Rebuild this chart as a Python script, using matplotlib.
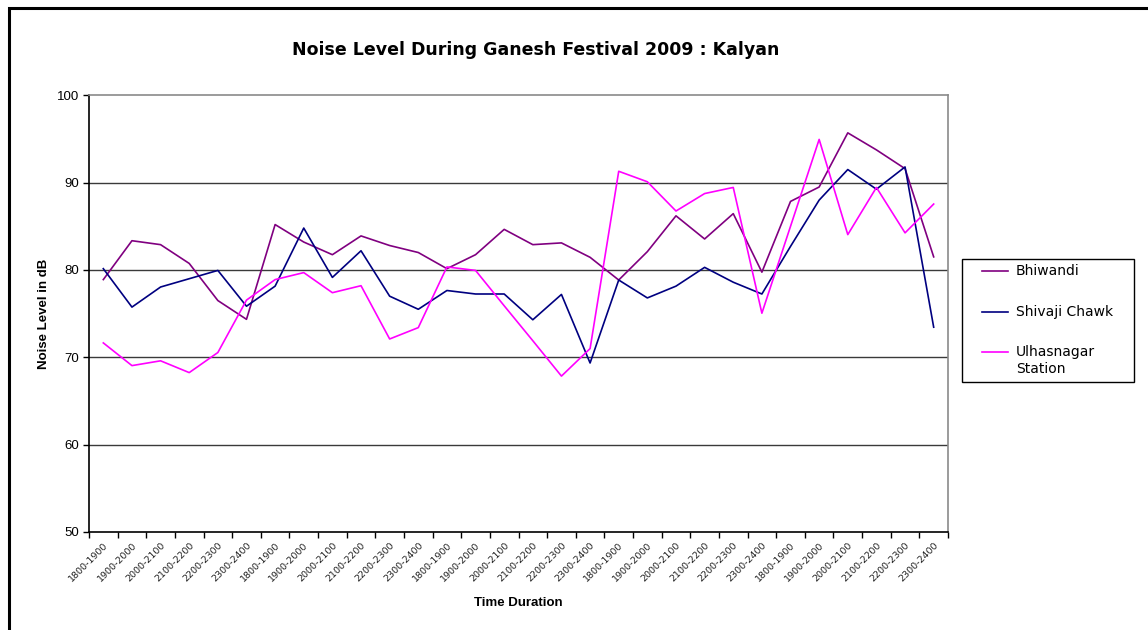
import matplotlib
matplotlib.use("Agg")
import matplotlib.pyplot as plt
from matplotlib.patches import Rectangle
from matplotlib.lines import Line2D
import numpy as np

# time slots, repeated for the five evenings
slots = ["1800-1900", "1900-2000", "2000-2100", "2100-2200", "2200-2300", "2300-2400"]
categories = slots * 5

bhiwandi = [78.9, 83.35, 82.9, 80.75, 76.5, 74.35, 85.2, 83.2, 81.75, 83.9,
            82.8, 82.0, 80.15, 81.75, 84.65, 82.9, 83.1, 81.45, 78.85, 82.1,
            86.2, 83.55, 86.45, 79.75, 87.85, 89.5, 95.7, 93.75, 91.6, 81.5]
shivaji = [80.15, 75.75, 78.05, 79.0, 79.95, 75.85, 78.15, 84.8, 79.15, 82.2,
           77.0, 75.5, 77.65, 77.25, 77.25, 74.3, 77.2, 69.35, 78.85, 76.8,
           78.15, 80.3, 78.6, 77.25, 82.7, 88.0, 91.5, 89.25, 91.8, 73.45]
ulhasnagar = [71.65, 69.05, 69.6, 68.25, 70.55, 76.55, 78.9, 79.7, 77.4, 78.2,
              72.1, 73.4, 80.35, 79.95, 75.9, 71.9, 67.85, 71.0, 91.3, 90.1,
              86.75, 88.75, 89.45, 75.05, 85.0, 94.95, 84.05, 89.45, 84.25, 87.55]

series = [("Bhiwandi", bhiwandi, "#800080"),
          ("Shivaji Chawk", shivaji, "#000080"),
          ("Ulhasnagar\nStation", ulhasnagar, "#FF00FF")]

W, H = 1148, 630
fig = plt.figure(figsize=(W / 100, H / 100), dpi=100)
ax = fig.add_axes([89 / W, 1 - 532 / H, (948 - 89) / W, (532 - 95.3) / H])

x = np.arange(len(categories))
for name, vals, col in series:
    ax.plot(x, vals, color=col, lw=1.2, label=name)

ax.set_xlim(-0.5, len(categories) - 0.5)
ax.set_ylim(50, 100)
ax.set_yticks([50, 60, 70, 80, 90, 100])
ax.set_yticklabels(["50", "60", "70", "80", "90", "100"], fontsize=9.5,
                   family="Liberation Sans")
for v in [60, 70, 80, 90]:
    ax.axhline(v, color="#3a3a3a", lw=1.0, zorder=0)

# ticks between categories, labels at centres
ax.set_xticks(np.arange(-0.5, len(categories), 1.0))
ax.set_xticklabels([])
ax.set_xticks(x, minor=True)
ax.set_xticklabels(categories, minor=True, rotation=45, ha="right",
                   rotation_mode="anchor", fontsize=6.8, color="#222222")
ax.tick_params(axis="x", which="minor", length=0, pad=6)
ax.tick_params(axis="x", which="major", length=4, width=1, direction="out")
ax.tick_params(axis="y", length=4, width=1, direction="out", pad=3)

for s in ["left", "bottom"]:
    ax.spines[s].set_color("black")
    ax.spines[s].set_linewidth(1.2)
for s in ["top", "right"]:
    ax.spines[s].set_color("#8a8a8a")
    ax.spines[s].set_linewidth(1.2)

ax.set_xlabel("Time Duration", fontsize=9.5, fontweight="bold",
              family="Liberation Sans", labelpad=10)
ax.set_ylabel("Noise Level in dB", fontsize=9.5, fontweight="bold",
              family="Liberation Sans", labelpad=5)

fig.text(536 / W, 1 - 50 / H, "Noise Level During Ganesh Festival 2009 : Kalyan",
         ha="center", va="center", fontsize=12.5, fontweight="bold")

# legend box drawn by hand so the handle sits on the first text line
fig.patches.append(Rectangle((962 / W, 1 - 382 / H), (1134 - 962) / W, (382 - 259) / H,
                             transform=fig.transFigure, fill=False,
                             edgecolor="black", lw=1.0))
leg_y = [271, 312, 352]
for (name, vals, col), yy in zip(series, leg_y):
    fig.lines.append(Line2D([982 / W, 1008 / W], [1 - yy / H, 1 - yy / H],
                            transform=fig.transFigure, color=col, lw=1.2))
    fig.text(1016 / W, 1 - (yy - 7) / H, name, ha="left", va="top",
             fontsize=10, linespacing=1.25)

# outer chart border (only left and top edges are visible in the image)
fig.patches.append(Rectangle((9 / W, -0.1), 1.2, 1 - 8 / H + 0.1,
                             transform=fig.transFigure, fill=False,
                             edgecolor="black", lw=2.2))

fig.savefig("out.png", dpi=100)
